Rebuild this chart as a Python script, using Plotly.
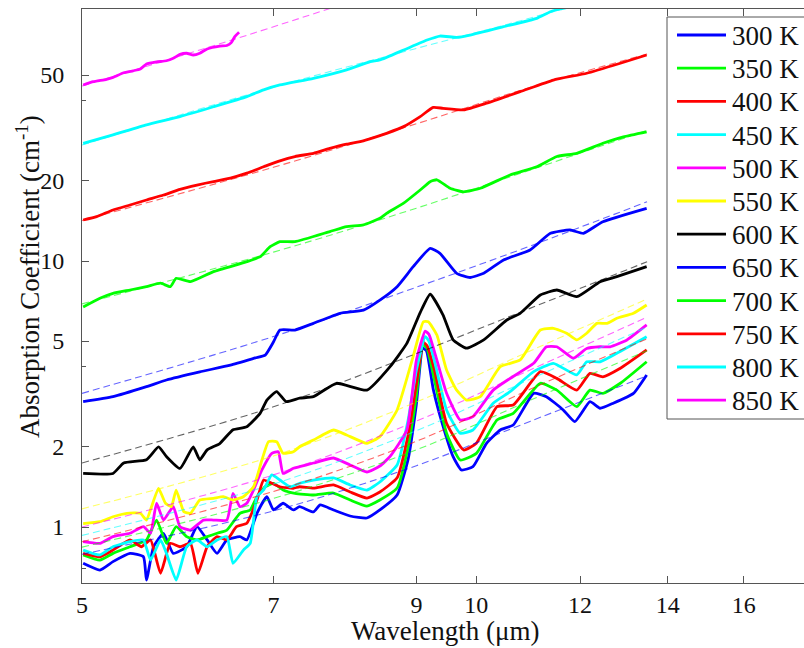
import plotly.graph_objects as go

# ---------------------------------------------------------------------------
# Absorption spectra (wavelength in um, absorption coefficient in 1/cm)
# ---------------------------------------------------------------------------
labels = ["300 K", "350 K", "400 K", "450 K", "500 K", "550 K",
          "600 K", "650 K", "700 K", "750 K", "800 K", "850 K"]
colors = ["#0000ff", "#00ff00", "#ff0000", "#00ffff", "#ff00ff", "#ffff00",
          "#000000", "#0000ff", "#00ff00", "#ff0000", "#00ffff", "#ff00ff"]

wl_300 = [5.01, 5.16, 5.28, 5.44, 5.57, 5.60, 5.67, 5.77, 5.87, 6.01, 6.12, 6.23, 6.34, 6.45, 6.60, 6.68,
          6.80, 6.92, 7.0, 7.12, 7.25, 7.33, 7.51, 7.60, 7.78, 8.01, 8.25, 8.44, 8.70, 8.87, 9.00, 9.10,
          9.16, 9.27, 9.43, 9.60, 9.74, 9.94, 10.18, 10.43, 10.67, 11.06, 11.31, 11.65, 11.89, 12.21,
          12.43, 12.72, 13.18, 13.49]
ab_300 = [0.730, 0.689, 0.741, 0.796, 0.773, 0.632, 0.843, 0.947, 0.796, 0.843, 1.003, 0.894, 0.796, 0.894,
          0.920, 0.894, 1.126, 1.300, 1.159, 1.228, 1.159, 1.192, 1.139, 1.21, 1.159, 1.10, 1.081, 1.159,
          1.319, 1.80, 2.9, 4.7, 4.6, 3.3, 2.40, 1.838, 1.638, 1.686, 2.064, 2.316, 2.418, 3.18, 3.09,
          2.754, 2.488, 2.958, 2.795, 2.92, 3.18, 3.73]

wl_350 = [5.01, 5.16, 5.28, 5.44, 5.60, 5.70, 5.80, 5.90, 6.01, 6.12, 6.23, 6.34, 6.45, 6.60, 6.72, 6.80,
          6.90, 7.0, 7.12, 7.27, 7.51, 7.78, 8.01, 8.25, 8.44, 8.70, 8.87, 9.00, 9.10, 9.17, 9.29, 9.49,
          9.72, 10.0, 10.37, 10.67, 11.19, 11.52, 11.93, 12.21, 12.49, 12.88, 13.49]
ab_350 = [0.785, 0.751, 0.796, 0.843, 0.894, 1.062, 0.868, 1.003, 0.920, 0.894, 0.920, 0.947, 0.974, 1.126,
          1.159, 1.300, 1.417, 1.46, 1.378, 1.339, 1.319, 1.342, 1.263, 1.199, 1.263, 1.401, 2.0, 3.13,
          4.85, 4.7, 3.57, 2.25, 1.786, 1.892, 2.525, 2.676, 3.47, 3.27, 2.834, 3.27, 3.18, 3.47, 4.18]

wl_400 = [5.01, 5.16, 5.28, 5.44, 5.55, 5.64, 5.74, 5.84, 5.94, 6.05, 6.13, 6.23, 6.34, 6.45, 6.56, 6.68,
          6.80, 6.88, 6.98, 7.08, 7.25, 7.33, 7.51, 7.78, 8.01, 8.25, 8.44, 8.70, 8.87, 9.00, 9.11, 9.17,
          9.29, 9.49, 9.78, 10.0, 10.37, 10.67, 11.19, 11.52, 11.93, 12.21, 12.49, 12.88, 13.49]
ab_400 = [0.796, 0.773, 0.819, 0.894, 0.843, 0.894, 0.670, 0.868, 0.843, 0.868, 0.670, 0.843, 0.920, 0.894,
          1.003, 1.033, 1.263, 1.502, 1.46, 1.417, 1.398, 1.417, 1.401, 1.439, 1.354, 1.285, 1.354, 1.53,
          2.218, 3.45, 4.95, 4.8, 3.89, 2.454, 1.948, 2.064, 2.834, 2.875, 3.837, 3.62, 3.27, 3.78, 3.67,
          3.95, 4.63]

wl_450 = [5.01, 5.16, 5.28, 5.44, 5.57, 5.64, 5.74, 5.80, 5.90, 6.01, 6.12, 6.23, 6.34, 6.45, 6.52, 6.64,
          6.72, 6.80, 6.88, 6.98, 7.08, 7.21, 7.33, 7.51, 7.78, 8.01, 8.25, 8.44, 8.70, 8.87, 9.00, 9.14,
          9.20, 9.30, 9.49, 9.72, 9.94, 10.30, 10.61, 11.06, 11.45, 11.93, 12.14, 12.43, 12.80, 13.49]
ab_450 = [0.819, 0.785, 0.843, 0.881, 0.894, 0.751, 0.894, 0.796, 0.632, 0.843, 0.894, 0.843, 0.894, 0.920,
          0.730, 0.819, 0.868, 1.300, 1.378, 1.569, 1.502, 1.417, 1.46, 1.50, 1.53, 1.439, 1.377, 1.476,
          1.711, 2.525, 3.89, 5.2, 5.0, 4.125, 2.754, 2.25, 2.316, 2.92, 3.226, 3.837, 4.125, 3.73, 4.18,
          4.18, 4.50, 5.19]

wl_500 = [5.01, 5.16, 5.28, 5.44, 5.57, 5.64, 5.70, 5.77, 5.87, 5.94, 6.05, 6.19, 6.30, 6.45, 6.52, 6.60,
          6.68, 6.76, 6.86, 6.98, 7.06, 7.12, 7.25, 7.33, 7.51, 7.78, 8.01, 8.25, 8.44, 8.59, 8.85, 9.00,
          9.14, 9.20, 9.31, 9.49, 9.72, 9.94, 10.30, 10.61, 11.06, 11.31, 11.52, 11.86, 12.14, 12.43,
          12.65, 13.03, 13.49]
ab_500 = [0.881, 0.868, 0.920, 0.947, 1.003, 0.947, 1.228, 1.062, 1.192, 1.003, 0.974, 1.062, 1.062, 1.062,
          1.339, 1.192, 1.228, 1.378, 1.638, 1.892, 1.919, 1.59, 1.662, 1.686, 1.74, 1.817, 1.711, 1.61,
          1.696, 1.838, 2.316, 4.245, 5.45, 5.3, 4.4, 3.18, 2.525, 2.60, 3.27, 3.62, 4.125, 4.76, 4.76,
          4.31, 4.69, 4.76, 4.76, 5.05, 5.75]

wl_550 = [5.01, 5.16, 5.28, 5.41, 5.54, 5.60, 5.65, 5.72, 5.79, 5.85, 5.90, 5.98, 6.05, 6.15, 6.30, 6.41,
          6.52, 6.64, 6.76, 6.86, 6.94, 7.04, 7.12, 7.25, 7.33, 7.51, 7.78, 7.96, 8.25, 8.44, 8.70, 8.95,
          9.11, 9.19, 9.33, 9.49, 9.66, 9.83, 10.07, 10.43, 10.80, 11.19, 11.45, 11.72, 11.93, 12.14,
          12.36, 12.58, 12.80, 13.18, 13.49]
ab_550 = [1.03, 1.047, 1.093, 1.126, 1.126, 1.062, 1.192, 1.398, 1.228, 1.192, 1.377, 1.142, 1.126, 1.263,
          1.282, 1.30, 1.263, 1.30, 1.417, 1.786, 2.093, 2.093, 1.892, 1.919, 2.004, 2.124, 2.316, 2.218,
          2.064, 2.186, 2.754, 4.39, 5.91, 5.91, 5.27, 3.89, 3.27, 3.0, 3.09, 4.005, 4.245, 5.50, 5.585,
          5.35, 5.05, 5.35, 5.83, 5.83, 6.09, 6.36, 6.83]

wl_600 = [5.01, 5.28, 5.38, 5.60, 5.72, 5.80, 5.94, 6.08, 6.15, 6.23, 6.37, 6.52, 6.68, 6.84, 6.92, 7.04,
          7.16, 7.33, 7.51, 7.82, 8.25, 8.59, 8.85, 9.06, 9.22, 9.43, 9.60, 9.83, 10.13, 10.55, 10.80,
          11.19, 11.52, 11.93, 12.43, 12.80, 13.49]
ab_600 = [1.59, 1.59, 1.74, 1.79, 2.0, 1.84, 1.66, 2.0, 1.79, 1.95, 2.06, 2.32, 2.38, 2.68, 3.0, 3.23,
          2.96, 3.05, 3.09, 3.47, 3.27, 4.0, 4.9, 6.4, 7.5, 6.27, 5.05, 4.70, 5.05, 6.0, 6.36, 7.45, 7.78,
          7.34, 8.36, 8.73, 9.52]

wl_650 = [5.01, 5.28, 5.60, 5.80, 6.15, 6.49, 6.78, 6.90, 7.0, 7.08, 7.27, 7.51, 7.87, 8.20, 8.44, 8.70,
          8.95, 9.22, 9.38, 9.66, 9.89, 10.13, 10.49, 10.99, 11.39, 11.79, 12.07, 12.49, 13.49]
ab_650 = [2.96, 3.09, 3.37, 3.57, 3.83, 4.06, 4.32, 4.43, 4.96, 5.50, 5.50, 5.83, 6.36, 6.54, 7.13, 8.01,
          9.52, 11.16, 10.69, 8.99, 8.67, 8.99, 10.09, 11.0, 12.71, 13.08, 12.71, 14.05, 15.78]

wl_700 = [5.01, 5.16, 5.28, 5.44, 5.60, 5.74, 5.84, 5.90, 6.05, 6.30, 6.68, 6.84, 6.96, 7.08, 7.27, 7.73,
          7.96, 8.20, 8.44, 8.54, 8.80, 9.06, 9.22, 9.33, 9.55, 9.78, 10.07, 10.61, 11.12, 11.52, 11.93,
          12.49, 12.95, 13.49]
ab_700 = [6.71, 7.24, 7.56, 7.78, 8.01, 8.25, 8.01, 8.61, 8.36, 9.12, 9.94, 10.38, 11.32, 11.82, 11.82, 12.9,
          13.46, 13.66, 14.47, 15.1, 16.5, 18.49, 19.87, 20.2, 18.77, 18.2, 18.77, 21.06, 22.6, 24.7, 25.4,
          27.7, 29.3, 30.6]

wl_750 = [5.01, 5.13, 5.28, 5.44, 5.60, 5.77, 5.94, 6.12, 6.30, 6.49, 6.68, 6.88, 7.08, 7.27, 7.51, 7.73,
          7.96, 8.20, 8.44, 8.54, 8.80, 9.06, 9.27, 9.43, 9.78, 10.18, 10.80, 11.45, 12.14, 12.88, 13.49]
ab_750 = [14.26, 14.68, 15.55, 16.24, 16.96, 17.7, 18.6, 19.3, 19.9, 20.5, 21.4, 22.6, 23.8, 24.7, 25.4, 26.5,
          27.5, 28.3, 29.6, 30.2, 32.0, 34.9, 37.8, 37.5, 37.0, 39.2, 43.3, 47.9, 50.8, 55.4, 59.5]

wl_800 = [5.01, 5.28, 5.60, 5.94, 6.30, 6.68, 6.88, 7.08, 7.51, 7.96, 8.30, 8.44, 8.80, 9.17, 9.38, 9.66,
          9.89, 10.49, 11.12, 11.39, 11.59, 12.40]
ab_800 = [27.7, 29.8, 32.5, 34.9, 38.0, 41.5, 44.0, 45.9, 48.6, 52.3, 56.2, 57.0, 62.1, 67.7, 70.1, 69.3,
          70.7, 76.0, 81.7, 86.5, 88.6, 95.0]

wl_850 = [5.01, 5.10, 5.22, 5.28, 5.38, 5.47, 5.54, 5.60, 5.70, 5.80, 5.87, 5.94, 6.01, 6.08, 6.15, 6.23,
          6.37, 6.45, 6.50, 6.54, 6.59]
ab_850 = [45.9, 47.2, 48.2, 49.0, 51.0, 51.9, 52.7, 55.0, 56.0, 56.6, 57.8, 59.8, 60.4, 59.5, 60.4, 62.7,
          64.3, 64.6, 66.2, 69.7, 72.4]

# Background fits (dashed), sampled at a few wavelengths
fit_wl = [5.0, 7.0, 9.0, 11.0, 13.5]
fit_300 = [0.79, 1.15, 1.70, 2.50, 3.70]
fit_350 = [0.84, 1.28, 1.95, 3.00, 4.60]
fit_400 = [0.88, 1.36, 2.10, 3.30, 5.10]
fit_450 = [0.93, 1.45, 2.30, 3.60, 5.65]
fit_500 = [1.00, 1.57, 2.50, 3.90, 6.15]
fit_550 = [1.17, 1.85, 2.95, 4.60, 7.20]
fit_600 = [1.74, 2.83, 4.49, 6.65, 9.94]
fit_650 = [3.18, 5.20, 7.97, 11.4, 16.7]
fit_700 = [6.90, 10.8, 15.8, 22.0, 31.0]
fit_750 = [14.2, 22.5, 32.8, 45.0, 60.0]
fit_800 = [27.3, 45.0, 63.0, 82.0, 110.0]
fit_wl_850 = [5.0, 6.56, 7.70, 8.0]
fit_850 = [45.5, 68.6, 88.4, 94.0]

spectra = [(wl_300, ab_300), (wl_350, ab_350), (wl_400, ab_400), (wl_450, ab_450),
           (wl_500, ab_500), (wl_550, ab_550), (wl_600, ab_600), (wl_650, ab_650),
           (wl_700, ab_700), (wl_750, ab_750), (wl_800, ab_800), (wl_850, ab_850)]
fits = [(fit_wl, fit_300), (fit_wl, fit_350), (fit_wl, fit_400), (fit_wl, fit_450),
        (fit_wl, fit_500), (fit_wl, fit_550), (fit_wl, fit_600), (fit_wl, fit_650),
        (fit_wl, fit_700), (fit_wl, fit_750), (fit_wl, fit_800), (fit_wl_850, fit_850)]

x_ticks = [5, 7, 9, 10, 12, 14, 16]
y_ticks = [1, 2, 5, 10, 20, 50]
y_minor = [0.7, 4, 40]

# ---------------------------------------------------------------------------
# Figure
# ---------------------------------------------------------------------------
W, H = 804, 648
ML, MR, MT, MB = 82, 0, 9, 65
PW, PH = W - ML - MR, H - MT - MB
FONT = "Liberation Serif"
TXT = "#111111"
AXIS = "#555555"
FS_TICK = 24
FS_TITLE = 27
FS_LEG = 27

fig = go.Figure()

for (wl, ab), name, col in zip(spectra, labels, colors):
    fig.add_trace(go.Scatter(x=wl, y=ab, mode="lines", name=name,
                             line=dict(color=col, width=2.8, shape="spline", smoothing=0.45),
                             showlegend=False, hoverinfo="skip"))

for (wl, ab), name, col in zip(fits, labels, colors):
    fig.add_trace(go.Scatter(x=wl, y=ab, mode="lines", name=name + " fit",
                             line=dict(color=col, width=1.1, dash="7px,4px", shape="spline"),
                             opacity=0.6, showlegend=False, hoverinfo="skip"))

# log axes: 1310 px per decade horizontally, 266 px per decade vertically
x_lo = 0.69897
x_hi = x_lo + PW / 1310.0
y_lo = -(583 - 527) / 266.0
y_hi = (527 - MT) / 266.0

fig.update_xaxes(type="log", range=[x_lo, x_hi], tickvals=x_ticks,
                 ticktext=[str(v) for v in x_ticks], ticks="inside", ticklen=7,
                 tickcolor=AXIS, showline=True, linecolor=AXIS, linewidth=1,
                 mirror="ticks", showgrid=False, zeroline=False,
                 tickfont=dict(family=FONT, size=FS_TICK, color=TXT))
fig.update_yaxes(type="log", range=[y_lo, y_hi], tickvals=y_ticks,
                 ticktext=[str(v) for v in y_ticks], ticks="inside", ticklen=7,
                 tickcolor=AXIS, showline=True, linecolor=AXIS, linewidth=1,
                 mirror=False, showgrid=False, zeroline=False, ticklabelstandoff=12,
                 minor=dict(tickvals=y_minor, ticks="inside", ticklen=4, tickcolor=AXIS,
                            showgrid=False),
                 tickfont=dict(family=FONT, size=FS_TICK, color=TXT))


def pxx(px):
    return (px - ML) / PW


def pxy(py):
    return (H - MB - py) / PH


annotations = [
    dict(text="Wavelength (\u03bcm)", x=pxx(445), y=pxy(631), xref="paper", yref="paper",
         showarrow=False, font=dict(family=FONT, size=FS_TITLE, color=TXT),
         xanchor="center", yanchor="middle"),
    dict(text="Absorption Coefficient (cm<sup>-1</sup>)", x=pxx(28), y=pxy(277),
         xref="paper", yref="paper", showarrow=False, textangle=-90,
         font=dict(family=FONT, size=FS_TITLE, color=TXT), xanchor="center", yanchor="middle"),
]

# legend box drawn at the upper right corner of the axes
shapes = [dict(type="rect", xref="paper", yref="paper", x0=pxx(667), x1=pxx(812),
               y0=pxy(419), y1=pxy(17), line=dict(color="#555", width=1), fillcolor="white",
               layer="above")]
row0, step = 35.0, 33.2
for i, (name, col) in enumerate(zip(labels, colors)):
    yc = row0 + i * step
    shapes.append(dict(type="line", xref="paper", yref="paper", x0=pxx(677), x1=pxx(726),
                       y0=pxy(yc), y1=pxy(yc), line=dict(color=col, width=2.8), layer="above"))
    annotations.append(dict(text=name, x=pxx(730), y=pxy(yc + 1), xref="paper", yref="paper",
                            showarrow=False, xanchor="left", yanchor="middle",
                            font=dict(family=FONT, size=FS_LEG, color=TXT)))

fig.update_layout(width=W, height=H, margin=dict(l=ML, r=MR, t=MT, b=MB),
                  paper_bgcolor="white", plot_bgcolor="white",
                  font=dict(family=FONT, size=FS_TICK, color=TXT),
                  annotations=annotations, shapes=shapes, showlegend=False)

fig.write_html("out.html")
